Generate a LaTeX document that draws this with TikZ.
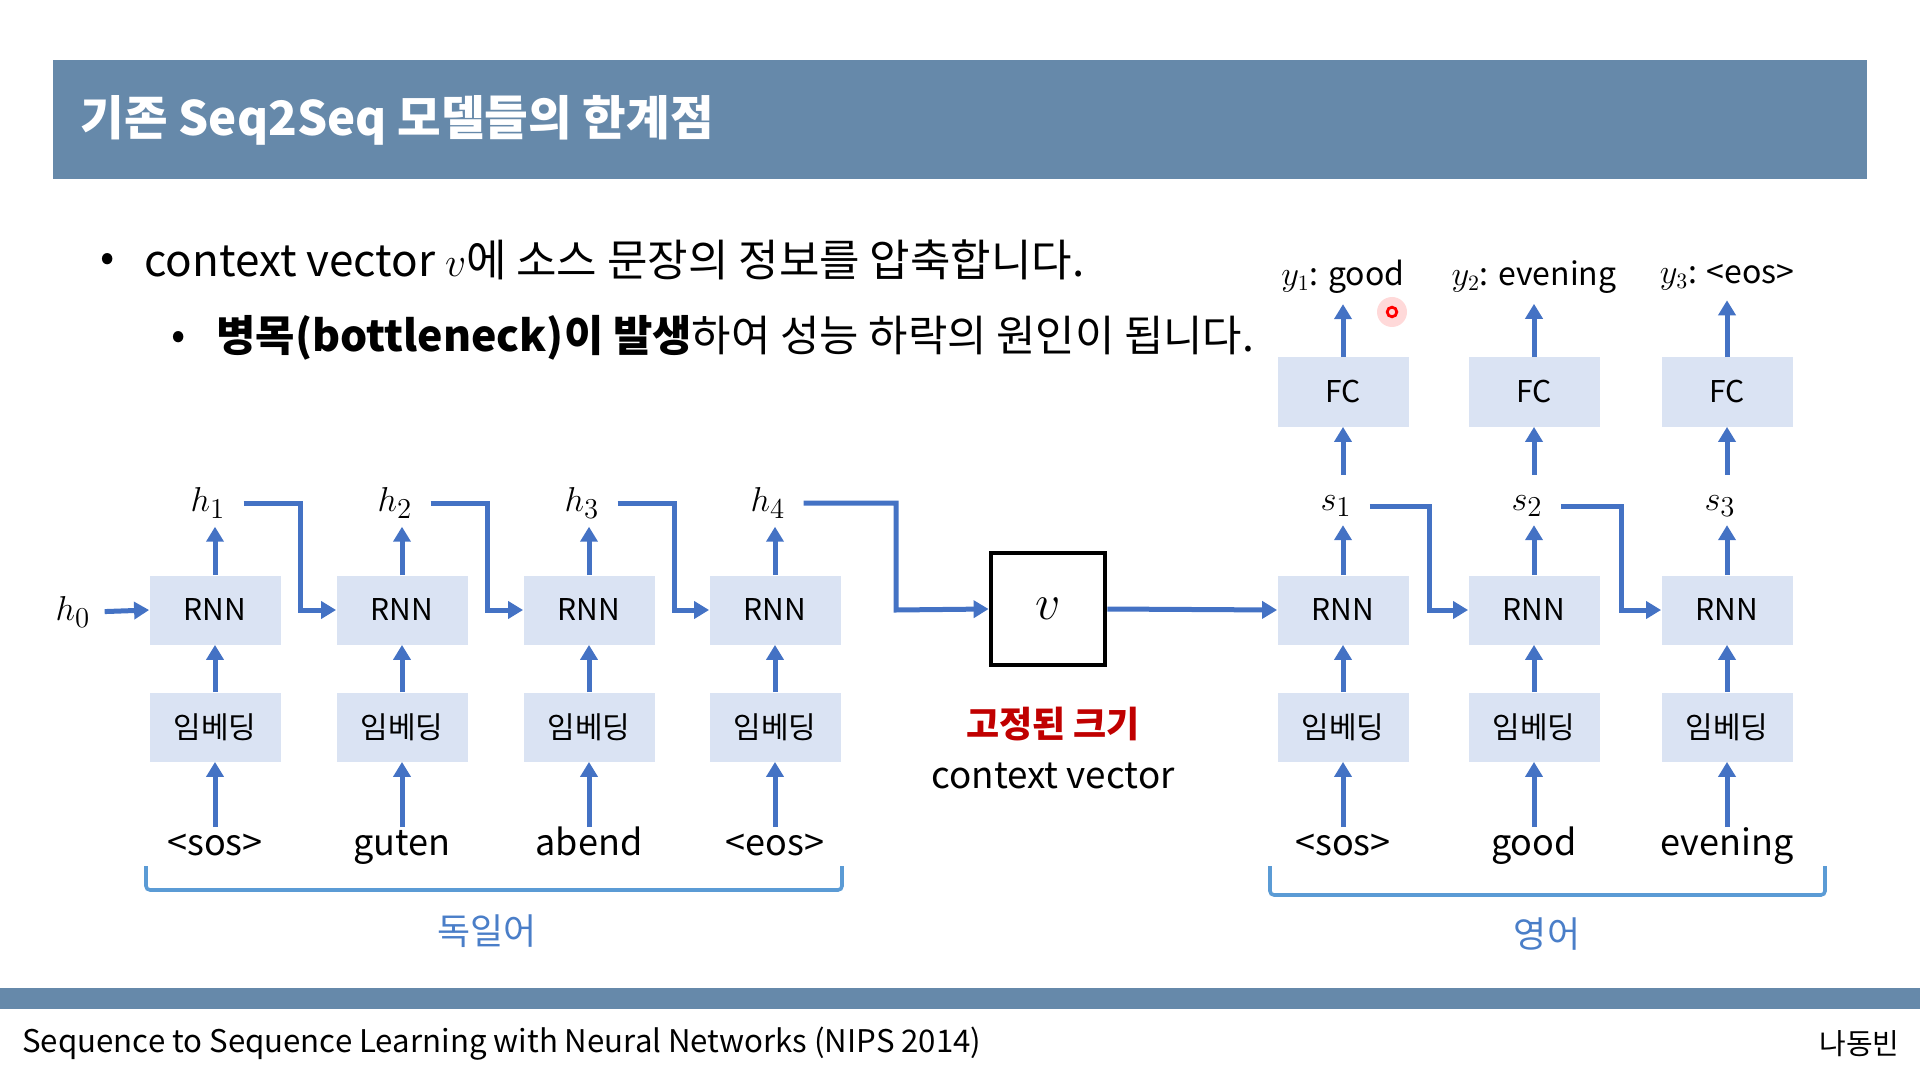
\documentclass[tikz,border=0pt]{standalone}
\usepackage{fontspec}
\setmainfont{Noto Sans CJK KR}
\usetikzlibrary{arrows.meta,positioning}
\definecolor{slbar}{RGB}{102,137,170}
\definecolor{slbox}{RGB}{218,227,243}
\definecolor{slblue}{RGB}{68,114,196}
\definecolor{sllang}{RGB}{91,155,213}
\definecolor{sllabel}{RGB}{74,126,200}
\definecolor{slred}{RGB}{192,0,0}

\begin{document}
\begin{tikzpicture}[
  x=0.5pt, y=-0.5pt,
  every node/.style={font=\fontsize{15}{18}\selectfont, inner sep=1pt},
  layerbox/.style={fill=slbox, minimum width=65.5pt, minimum height=34.5pt, inner sep=0pt},
  flow/.style={draw=slblue, line width=2.5pt, -{Triangle[width=8.5pt,length=7.5pt]}},
  word/.style={font=\fontsize{18}{21}\selectfont, text height=13pt, text depth=4.5pt},
  statelab/.style={font=\fontsize{19}{22}\selectfont},
  outlab/.style={font=\fontsize{16}{20}\selectfont},
  langbrace/.style={draw=sllang, line width=1.8pt, rounded corners=2pt},
]
  \useasboundingbox (0,0) rectangle (1920,1080);

  % Title bar
  \fill[slbar] (53,60) rectangle (1867,179);
  \node[anchor=west, text=white, font=\fontsize{23.7}{27}\selectfont\bfseries] (title) at (78,120)
    {기존 Seq2Seq 모델들의 한계점};

  % Bullets
  \node[font=\fontsize{21}{24}\selectfont] (bulA) at (108,262) {•};
  \node[anchor=west, font=\fontsize{22}{26}\selectfont] (txtA) at (142,260)
    {context vector $v$에 소스 문장의 정보를 압축합니다.};
  \node[font=\fontsize{21}{24}\selectfont] (bulB) at (179,340) {•};
  \node[anchor=west, font=\fontsize{21.4}{26}\selectfont] (txtB) at (214,338)
    {\textbf{병목(bottleneck)이 발생}하여 성능 하락의 원인이 됩니다.};

  % Encoder
  \node[statelab] (hzero) at (73,612) {$h_0$};
  \node[layerbox] (rnnE1) at (215,610) {RNN};
  \node[layerbox] (rnnE2) at (402,610) {RNN};
  \node[layerbox] (rnnE3) at (589,610) {RNN};
  \node[layerbox] (rnnE4) at (775,610) {RNN};
  \node[layerbox] (embE1) at (215,727) {임베딩};
  \node[layerbox] (embE2) at (402,727) {임베딩};
  \node[layerbox] (embE3) at (589,727) {임베딩};
  \node[layerbox] (embE4) at (775,727) {임베딩};
  \node[word] (wordE1) at (215,847) {<sos>};
  \node[word] (wordE2) at (402,847) {guten};
  \node[word] (wordE3) at (589,847) {abend};
  \node[word] (wordE4) at (775,847) {<eos>};
  \node[statelab] (hE1) at (208,503) {$h_1$};
  \node[statelab] (hE2) at (395,503) {$h_2$};
  \node[statelab] (hE3) at (582,503) {$h_3$};
  \node[statelab] (hE4) at (768,503) {$h_4$};

  % Context vector
  \node[draw, line width=2.4pt, minimum width=57pt, minimum height=56pt,
        font=\fontsize{29}{31}\selectfont] (ctx) at (1048,609) {$v$};
  \node[text=slred, font=\fontsize{18}{21}\selectfont\bfseries] (fixed) at (1053,724) {고정된 크기};
  \node[font=\fontsize{18.4}{21}\selectfont] (ctxlab) at (1053,776) {context vector};

  % Decoder
  \node[layerbox] (rnnD1) at (1343,610) {RNN};
  \node[layerbox] (rnnD2) at (1534,610) {RNN};
  \node[layerbox] (rnnD3) at (1727,610) {RNN};
  \node[layerbox] (embD1) at (1343,727) {임베딩};
  \node[layerbox] (embD2) at (1534,727) {임베딩};
  \node[layerbox] (embD3) at (1727,727) {임베딩};
  \node[word] (wordD1) at (1343,847) {<sos>};
  \node[word] (wordD2) at (1534,847) {good};
  \node[word] (wordD3) at (1727,847) {evening};
  \node[statelab] (sD1) at (1336,506) {$s_1$};
  \node[statelab] (sD2) at (1527,506) {$s_2$};
  \node[statelab] (sD3) at (1720,506) {$s_3$};
  \node[layerbox] (fcD1) at (1343,392) {FC};
  \node[layerbox] (fcD2) at (1534,392) {FC};
  \node[layerbox] (fcD3) at (1727,392) {FC};
  \node[outlab] (yD1) at (1343,277) {$y_1$: good};
  \node[outlab] (yD2) at (1534,277) {$y_2$: evening};
  \node[outlab] (yD3) at (1727,277) {$y_3$: <eos>};

  % Elbow points
  \coordinate (kE1) at (300,610);
  \coordinate (kE2) at (487,610);
  \coordinate (kE3) at (674,610);
  \coordinate (kE4) at (896,610);
  \coordinate (kD1) at (1429,610);
  \coordinate (kD2) at (1621,610);

  % Encoder arrows
  \draw[flow, shorten <=6pt] (hzero.east) -- (rnnE1.west);
  \draw[flow] (wordE1.north) -- (embE1.south);
  \draw[flow] (wordE2.north) -- (embE2.south);
  \draw[flow] (wordE3.north) -- (embE3.south);
  \draw[flow] (wordE4.north) -- (embE4.south);
  \draw[flow] (embE1.north) -- (rnnE1.south);
  \draw[flow] (embE2.north) -- (rnnE2.south);
  \draw[flow] (embE3.north) -- (rnnE3.south);
  \draw[flow] (embE4.north) -- (rnnE4.south);
  \draw[flow, shorten >=3pt] (rnnE1.north) -- (rnnE1.north |- hE1.south);
  \draw[flow, shorten >=3pt] (rnnE2.north) -- (rnnE2.north |- hE2.south);
  \draw[flow, shorten >=3pt] (rnnE3.north) -- (rnnE3.north |- hE3.south);
  \draw[flow, shorten >=3pt] (rnnE4.north) -- (rnnE4.north |- hE4.south);
  \draw[flow, shorten <=8pt] (hE1.east) -| (kE1) -- (rnnE2.west);
  \draw[flow, shorten <=8pt] (hE2.east) -| (kE2) -- (rnnE3.west);
  \draw[flow, shorten <=8pt] (hE3.east) -| (kE3) -- (rnnE4.west);
  \draw[flow, shorten <=8pt] (hE4.east) -| (kE4) -- (ctx.west);

  % Decoder arrows
  \draw[flow] (ctx.east) -- (rnnD1.west);
  \draw[flow] (wordD1.north) -- (embD1.south);
  \draw[flow] (wordD2.north) -- (embD2.south);
  \draw[flow] (wordD3.north) -- (embD3.south);
  \draw[flow] (embD1.north) -- (rnnD1.south);
  \draw[flow] (embD2.north) -- (rnnD2.south);
  \draw[flow] (embD3.north) -- (rnnD3.south);
  \draw[flow, shorten >=3pt] (rnnD1.north) -- (rnnD1.north |- sD1.south);
  \draw[flow, shorten >=3pt] (rnnD2.north) -- (rnnD2.north |- sD2.south);
  \draw[flow, shorten >=3pt] (rnnD3.north) -- (rnnD3.north |- sD3.south);
  \draw[flow, shorten <=9pt] (fcD1.south |- sD1.north) -- (fcD1.south);
  \draw[flow, shorten <=9pt] (fcD2.south |- sD2.north) -- (fcD2.south);
  \draw[flow, shorten <=9pt] (fcD3.south |- sD3.north) -- (fcD3.south);
  \draw[flow, shorten >=4pt] (fcD1.north) -- (yD1.south);
  \draw[flow, shorten >=4pt] (fcD2.north) -- (yD2.south);
  \draw[flow, shorten >=4pt] (fcD3.north) -- (yD3.south);
  \draw[flow, shorten <=8pt] (sD1.east) -| (kD1) -- (rnnD2.west);
  \draw[flow, shorten <=8pt] (sD2.east) -| (kD2) -- (rnnD3.west);

  % Language brackets
  \draw[langbrace] (146,866) -- (146,890) -- (842,890) -- (842,866);
  \draw[langbrace] (1270,866) -- (1270,895) -- (1825,895) -- (1825,866);
  \node[text=sllabel, font=\fontsize{18}{21}\selectfont] (langsrc) at (487,931) {독일어};
  \node[text=sllabel, font=\fontsize{18}{21}\selectfont] (langtgt) at (1547,934) {영어};

  % Pointer mark
  \fill[red!15] (1392,312) circle (7.5pt);
  \draw[red, line width=1.4pt] (1392,312) circle (2.4pt);

  % Footer
  \fill[slbar] (0,988) rectangle (1920,1009);
  \node[anchor=west, font=\fontsize{15.6}{18}\selectfont] (source) at (20,1044)
    {Sequence to Sequence Learning with Neural Networks (NIPS 2014)};
  \node[anchor=east, font=\fontsize{14.5}{17}\selectfont] (author) at (1902,1044) {나동빈};
\end{tikzpicture}
\end{document}
